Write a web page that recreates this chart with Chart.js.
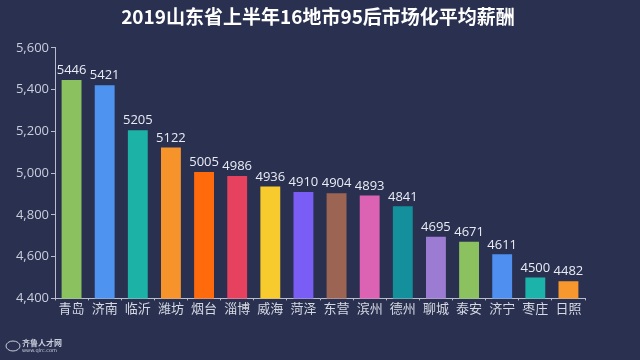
<!DOCTYPE html>
<html><head><meta charset="utf-8">
<script src="https://cdn.jsdelivr.net/npm/chart.js@4/dist/chart.umd.min.js"></script>
<style>html,body{margin:0;padding:0;background:#2a3050;}#wrap{width:640px;height:360px;position:relative;}</style>
</head><body><div id="wrap"><canvas id="c" width="640" height="360"></canvas></div>
<script>
const categories = ['青岛','济南','临沂','潍坊','烟台','淄博','威海','菏泽','东营','滨州','德州','聊城','泰安','济宁','枣庄','日照'];
const salaries = [5446,5421,5205,5122,5005,4986,4936,4910,4904,4893,4841,4695,4671,4611,4500,4482];
const barColors = ['#8cc160','#4f93f0','#1cb3a6','#f7932b','#ff6b0c','#e6415f','#f7cb2e','#7a5df5','#9c6553','#dc62b4','#13909b','#9c7cd2','#8cc160','#4f8ff0','#1cb3aa','#f7982f'];
const yTicks = [4400,4600,4800,5000,5200,5400,5600];
const titleText = '2019山东省上半年16地市95后市场化平均薪酬';
const cjk = '"Noto Sans CJK SC","Noto Sans",sans-serif';

const labelPlugin = {
  id:'labels',
  afterDatasetsDraw(chart){
    const ctx = chart.ctx;
    const meta = chart.getDatasetMeta(0);
    ctx.save();
    ctx.font = '13px "Open Sans","Noto Sans",sans-serif';
    ctx.fillStyle = '#e9ecf4';
    ctx.textAlign = 'center';
    ctx.textBaseline = 'bottom';
    meta.data.forEach((bar,i)=>{
      ctx.fillText(String(salaries[i]), bar.x, bar.y - 3);
    });
    ctx.restore();
  },
  afterDraw(chart){
    const ctx = chart.ctx;
    ctx.save();
    ctx.fillStyle = '#c9cedb';
    ctx.font = 'bold 8px ' + cjk;
    ctx.textBaseline = 'middle';
    ctx.textAlign = 'left';
    ctx.fillText('齐鲁人才网', 22, 343);
    ctx.font = '5px "DejaVu Sans",sans-serif';
    ctx.fillText('www.qlrc.com', 22, 351);
    ctx.strokeStyle = '#c9cedb';
    ctx.lineWidth = 1;
    ctx.beginPath();
    ctx.ellipse(13, 346, 7, 5, 0, 0, Math.PI*2);
    ctx.stroke();
    ctx.restore();
  }
};

new Chart(document.getElementById('c'), {
  type:'bar',
  data:{labels:categories, datasets:[{data:salaries, backgroundColor:barColors, borderWidth:0, barPercentage:0.6, categoryPercentage:1.0}]},
  options:{
    responsive:false, animation:false,
    layout:{padding:{left:0,right:4,top:0,bottom:44}},
    plugins:{
      legend:{display:false}, tooltip:{enabled:false},
      title:{display:true, text:titleText, color:'#ffffff', font:{family:cjk, size:19, weight:'bold'}, padding:{top:5,bottom:20}}
    },
    scales:{
      y:{
        min:4400, max:5600,
        afterBuildTicks(axis){ axis.ticks = yTicks.map(v=>({value:v})); },
        afterFit(axis){ axis.width = 55; },
        ticks:{color:'#c9cedb', font:{family:'"Open Sans","Noto Sans",sans-serif', size:13}, padding:2,
          callback:(v)=>v.toLocaleString('en-US')},
        grid:{display:true, drawOnChartArea:false, drawTicks:true, tickLength:4, color:'#b9bdcb'},
        border:{display:true, color:'#b9bdcb', width:1}
      },
      yRight:{
        position:'right', display:true, min:4400, max:5600,
        afterFit(axis){ axis.width = 51; },
        ticks:{display:false}, grid:{display:false}, border:{display:false}
      },
      x:{
        ticks:{color:'#d5d9e3', font:{family:cjk, size:13}, padding:0, maxRotation:0, autoSkip:false},
        grid:{display:true, drawOnChartArea:false, drawTicks:true, tickLength:2, color:'#b9bdcb', offset:true},
        border:{display:true, color:'#b9bdcb', width:1}
      }
    }
  },
  plugins:[labelPlugin]
});
</script></body></html>
